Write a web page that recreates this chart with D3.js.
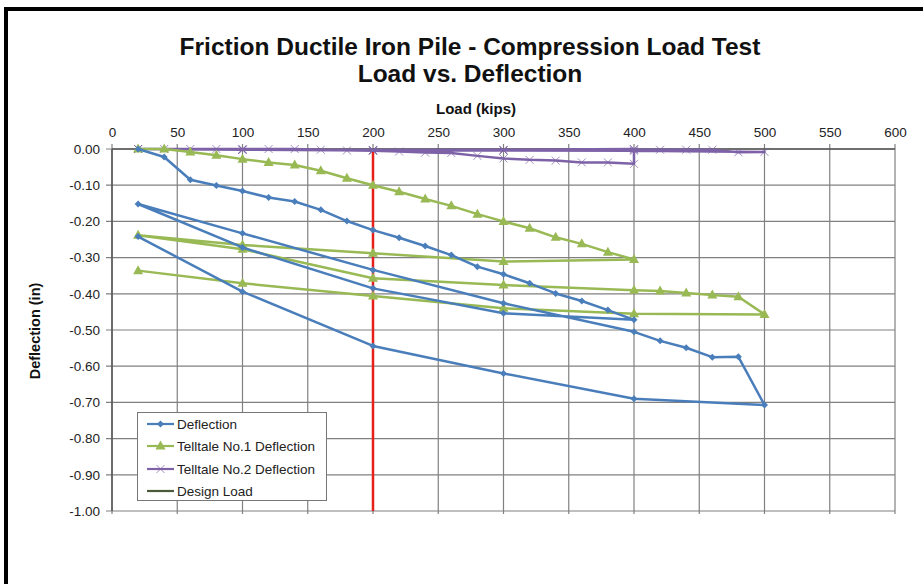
<!DOCTYPE html>
<html><head><meta charset="utf-8">
<script src="https://cdn.jsdelivr.net/npm/d3@7"></script>
<style>
html,body{margin:0;padding:0;background:#fff;}
svg{display:block;font-family:"Liberation Sans",Arial,sans-serif;}
</style></head>
<body>
<svg id="chart" width="923" height="584"></svg>
<script>
// ---- data ----
const xTicks = [0,50,100,150,200,250,300,350,400,450,500,550,600];
const yTicks = [0,-0.1,-0.2,-0.3,-0.4,-0.5,-0.6,-0.7,-0.8,-0.9,-1.0];

// load sequence shared by Deflection and Telltale No.1
const loadSeq = [20,40,60,80,100,120,140,160,180,200,220,240,260,280,300,320,340,360,380,400,
  300,200,100,20,
  100,200,300,400,420,440,460,480,500,
  400,300,200,100,20];
const deflection = [0,-0.022,-0.085,-0.101,-0.116,-0.134,-0.145,-0.168,-0.199,-0.224,-0.245,-0.268,-0.293,-0.325,-0.346,-0.371,-0.399,-0.42,-0.445,-0.472,
  -0.454,-0.385,-0.272,-0.152,
  -0.233,-0.334,-0.426,-0.505,-0.53,-0.549,-0.575,-0.574,-0.707,
  -0.69,-0.62,-0.544,-0.394,-0.242];
const telltale1 = [0,0,-0.008,-0.017,-0.028,-0.037,-0.044,-0.06,-0.081,-0.1,-0.118,-0.138,-0.157,-0.18,-0.2,-0.219,-0.244,-0.262,-0.285,-0.305,
  -0.311,-0.288,-0.265,-0.238,
  -0.277,-0.357,-0.376,-0.39,-0.392,-0.398,-0.403,-0.408,-0.457,
  -0.455,-0.44,-0.406,-0.371,-0.336];
// Telltale No.2 load sequence
const loadSeq2 = [20,40,60,80,100,120,140,160,180,200,220,240,260,280,300,320,340,360,380,400,
  400,300,200,100,20,
  100,200,300,400,420,440,460,480,500,
  400,300,200,100,20];
const telltale2 = [0,0,0,0,0,0,0,-0.002,-0.004,-0.005,-0.007,-0.01,-0.011,-0.019,-0.026,-0.03,-0.032,-0.037,-0.037,-0.041,
  0,-0.002,-0.003,-0.002,0,
  -0.002,-0.004,-0.004,-0.002,-0.002,-0.002,-0.002,-0.009,-0.008,
  -0.005,-0.004,-0.003,-0.002,0];
const designLoad = [200];
const designDefl = [0,-1.0];

const legendNames = ["Deflection","Telltale No.1 Deflection","Telltale No.2 Deflection","Design Load"];
const colors = {blue:"#4a7ebb", green:"#98b954", purple:"#7e62a8", red:"#e8201c", olive:"#4b5a3a"};

// ---- chart ----
const svg = d3.select("#chart");
const L=112, R=895, T=149, B=511;
const x = d3.scaleLinear().domain([0,600]).range([L,R]);
const y = d3.scaleLinear().domain([-1,0]).range([B,T]);

// outer frame
svg.append("rect").attr("x",6).attr("y",9).attr("width",940).attr("height",620)
  .attr("fill","none").attr("stroke","#000").attr("stroke-width",4);

// titles
svg.append("text").attr("x",470).attr("y",55).attr("text-anchor","middle")
  .attr("font-size",24.5).attr("font-weight","bold").attr("fill","#111")
  .text("Friction Ductile Iron Pile - Compression Load Test");
svg.append("text").attr("x",470).attr("y",82).attr("text-anchor","middle")
  .attr("font-size",24.5).attr("font-weight","bold").attr("fill","#111")
  .text("Load vs. Deflection");
svg.append("text").attr("x",476).attr("y",114).attr("text-anchor","middle")
  .attr("font-size",15).attr("font-weight","bold").attr("fill","#111")
  .text("Load (kips)");
svg.append("text").attr("transform","translate(40,331) rotate(-90)").attr("text-anchor","middle")
  .attr("font-size",14.5).attr("font-weight","bold").attr("fill","#111")
  .text("Deflection (in)");

// grid
const grid = svg.append("g").attr("stroke","#808080").attr("stroke-width",1.2);
grid.selectAll("line.v").data(xTicks).join("line")
  .attr("x1",d=>x(d)).attr("x2",d=>x(d)).attr("y1",T-5).attr("y2",B+3);
grid.selectAll("line.h").data(yTicks).join("line")
  .attr("x1",L-6).attr("x2",R).attr("y1",d=>y(d)).attr("y2",d=>y(d));

// axes labels via d3 axes
const xAxis = svg.append("g").attr("transform",`translate(0,${T})`)
  .call(d3.axisTop(x).tickValues(xTicks).tickFormat(d3.format("d")).tickSize(0).tickPadding(12));
const yAxis = svg.append("g").attr("transform",`translate(${L},0)`)
  .call(d3.axisLeft(y).tickValues(yTicks).tickFormat(d3.format(".2f")).tickSize(0).tickPadding(12));
[xAxis,yAxis].forEach(a=>{
  a.select(".domain").remove();
  a.selectAll("text").attr("font-size",13.5).attr("fill","#222").attr("font-family","Liberation Sans, Arial, sans-serif");
});
yAxis.selectAll("text").text(d=>d3.format(".2f")(d).replace("−","-"));

// axis lines
svg.append("line").attr("x1",L).attr("x2",L).attr("y1",T).attr("y2",B).attr("stroke","#555").attr("stroke-width",1.5);
svg.append("line").attr("x1",L).attr("x2",R).attr("y1",T).attr("y2",T).attr("stroke","#555").attr("stroke-width",1.5);

// design load line
svg.append("line").attr("x1",x(designLoad[0])).attr("x2",x(designLoad[0]))
  .attr("y1",y(designDefl[0])).attr("y2",y(designDefl[1]))
  .attr("stroke",colors.red).attr("stroke-width",2.5);

const line = d3.line().x(d=>x(d[0])).y(d=>y(d[1]));
function series(loads, vals, color, marker){
  const pts = loads.map((l,i)=>[l,vals[i]]);
  const g = svg.append("g");
  g.append("path").attr("d",line(pts)).attr("fill","none").attr("stroke",color)
    .attr("stroke-width",2.5).attr("stroke-linejoin","round");
  drawMarkers(g, pts.map(p=>[x(p[0]),y(p[1])]), color, marker);
}
function drawMarkers(g, pts, color, marker){
  pts.forEach(([px,py])=>{
    if(marker==="diamond"){
      g.append("path").attr("d",`M${px},${py-3.5}L${px+3.5},${py}L${px},${py+3.5}L${px-3.5},${py}Z`).attr("fill",color);
    } else if(marker==="triangle"){
      g.append("path").attr("d",`M${px},${py-5.5}L${px+5},${py+3.5}L${px-5},${py+3.5}Z`).attr("fill",color);
    } else if(marker==="x"){
      g.append("path").attr("d",`M${px-4},${py-4}L${px+4},${py+4}M${px-4},${py+4}L${px+4},${py-4}`)
        .attr("stroke",color).attr("stroke-width",1).attr("opacity",0.7);
    }
  });
}
series(loadSeq2, telltale2, colors.purple, "x");
series(loadSeq, telltale1, colors.green, "triangle");
series(loadSeq, deflection, colors.blue, "diamond");

// legend
const lg = svg.append("g");
lg.append("rect").attr("x",137.5).attr("y",412.5).attr("width",189).attr("height",88)
  .attr("fill","#fff").attr("stroke","#777").attr("stroke-width",1);
const legColors=[colors.blue,colors.green,colors.purple,colors.olive];
const legMarkers=["diamond","triangle","x",null];
const legY=[424,446,469,491];
legendNames.forEach((n,i)=>{
  lg.append("line").attr("x1",147).attr("x2",174).attr("y1",legY[i]).attr("y2",legY[i])
    .attr("stroke",legColors[i]).attr("stroke-width",2.2);
  if(legMarkers[i]) drawMarkers(lg,[[160.5,legY[i]]],legColors[i],legMarkers[i]);
  lg.append("text").attr("x",177).attr("y",legY[i]+4.5).attr("font-size",13.5).attr("fill","#222").text(n);
});
</script>
</body></html>
